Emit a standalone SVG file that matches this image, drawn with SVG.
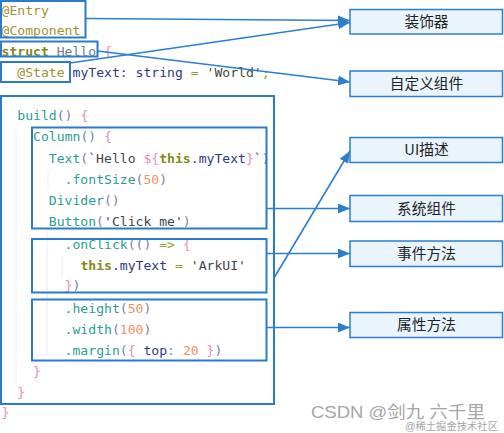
<svg xmlns="http://www.w3.org/2000/svg" width="504" height="433" viewBox="0 0 504 433">
<defs>
<marker id="ah" viewBox="0 0 12 10" refX="12" refY="5" markerWidth="12" markerHeight="10" markerUnits="userSpaceOnUse" orient="auto">
<path d="M0,0 L12,5 L0,10 Z" fill="#2b7fd0"/>
</marker>
<style>
.code{font-family:"DejaVu Sans Mono","Liberation Mono",monospace;font-size:13.1px;white-space:pre}
.cbox{fill:none;stroke:#2b7bcd;stroke-width:2}
.lbl rect{fill:#e9f4fd;stroke:#2b7fd0;stroke-width:1.5}
.lbl text{font-family:"Noto Sans CJK SC","Noto Sans",sans-serif;font-size:14.7px;fill:#222;text-anchor:middle}
.con{stroke:#2b7fd0;stroke-width:1.6;fill:none;marker-end:url(#ah)}
.guide{stroke:#ececec;stroke-width:1}
.d{fill:#a39230}
.k{fill:#848a18;font-weight:bold}
.n{fill:#6e7f86}
.b{fill:#e88bbd}
.t{fill:#2b9e92}
.p{fill:#7a7fa8}
.v{fill:#2d3a86}
.s{fill:#404848}
.m{fill:#f09068}
.o{fill:#9a9a30}
.wm{font-family:"Liberation Sans","Noto Sans CJK SC",sans-serif;fill:#a6a6a6}
</style>
</defs>
<rect width="504" height="433" fill="#ffffff"/>
<g id="guides">
<line class="guide" x1="16" y1="128" x2="16" y2="384"/>
<line class="guide" x1="48" y1="170" x2="48" y2="188"/>
<line class="guide" x1="47" y1="230" x2="47" y2="356"/>
<line class="guide" x1="62" y1="255" x2="62" y2="276"/>
</g>
<g id="code">
<text class="code" x="1.5" y="14.5" xml:space="preserve"><tspan class="d">@Entry</tspan></text>
<text class="code" x="1.5" y="35" xml:space="preserve"><tspan class="d">@Component</tspan></text>
<text class="code" x="1.5" y="56" xml:space="preserve"><tspan class="k">struct</tspan><tspan class="n"> Hello </tspan><tspan class="b">{</tspan></text>
<text class="code" x="17.3" y="77" xml:space="preserve"><tspan class="d">@State</tspan><tspan class="v"> myText</tspan><tspan class="v">: string </tspan><tspan class="o">= </tspan><tspan class="s">'World'</tspan><tspan class="o">;</tspan></text>
<text class="code" x="17.3" y="119.5" xml:space="preserve"><tspan class="t">build</tspan><tspan class="p">() </tspan><tspan class="b">{</tspan></text>
<text class="code" x="33.1" y="141" xml:space="preserve"><tspan class="t">Column</tspan><tspan class="p">() </tspan><tspan class="b">{</tspan></text>
<text class="code" x="48.8" y="162.5" xml:space="preserve"><tspan class="t">Text</tspan><tspan class="p">(</tspan><tspan class="s">`Hello </tspan><tspan class="b">${</tspan><tspan class="k">this</tspan><tspan class="v">.myText</tspan><tspan class="b">}</tspan><tspan class="s">`</tspan><tspan class="p">)</tspan></text>
<text class="code" x="64.6" y="183.5" xml:space="preserve"><tspan class="t">.fontSize</tspan><tspan class="p">(</tspan><tspan class="m">50</tspan><tspan class="p">)</tspan></text>
<text class="code" x="48.8" y="204.5" xml:space="preserve"><tspan class="t">Divider</tspan><tspan class="p">()</tspan></text>
<text class="code" x="48.8" y="225.5" xml:space="preserve"><tspan class="t">Button</tspan><tspan class="p">(</tspan><tspan class="s">'Click me'</tspan><tspan class="p">)</tspan></text>
<text class="code" x="64.6" y="249" xml:space="preserve"><tspan class="t">.onClick</tspan><tspan class="p">(() </tspan><tspan class="o">=&gt; </tspan><tspan class="b">{</tspan></text>
<text class="code" x="80.4" y="269.5" xml:space="preserve"><tspan class="k">this</tspan><tspan class="v">.myText </tspan><tspan class="o">= </tspan><tspan class="s">'ArkUI'</tspan></text>
<text class="code" x="64.6" y="290" xml:space="preserve"><tspan class="b">}</tspan><tspan class="p">)</tspan></text>
<text class="code" x="64.6" y="312.5" xml:space="preserve"><tspan class="t">.height</tspan><tspan class="p">(</tspan><tspan class="m">50</tspan><tspan class="p">)</tspan></text>
<text class="code" x="64.6" y="333.5" xml:space="preserve"><tspan class="t">.width</tspan><tspan class="p">(</tspan><tspan class="m">100</tspan><tspan class="p">)</tspan></text>
<text class="code" x="64.6" y="354.5" xml:space="preserve"><tspan class="t">.margin</tspan><tspan class="p">(</tspan><tspan class="b">{ </tspan><tspan class="v">top</tspan><tspan class="p">: </tspan><tspan class="m">20 </tspan><tspan class="b">}</tspan><tspan class="p">)</tspan></text>
<text class="code" x="33.1" y="376" xml:space="preserve"><tspan class="b">}</tspan></text>
<text class="code" x="17.3" y="396.5" xml:space="preserve"><tspan class="b">}</tspan></text>
<text class="code" x="1.5" y="417" xml:space="preserve"><tspan class="b">}</tspan></text>
</g>
<g id="code-boxes">
<rect id="box-decorators" class="cbox" x="1" y="1" width="84.5" height="36.5"/>
<rect id="box-struct" class="cbox" x="1" y="41.5" width="96.5" height="15"/>
<rect id="box-state" class="cbox" x="1" y="62" width="69" height="20"/>
<rect id="box-build" class="cbox" x="1" y="96" width="273" height="308"/>
<rect id="box-column" class="cbox" x="32" y="127.5" width="234.5" height="101"/>
<rect id="box-onclick" class="cbox" x="32" y="239" width="234.5" height="53.5"/>
<rect id="box-attrs" class="cbox" x="32" y="299.5" width="234.5" height="61"/>
</g>
<g id="connectors">
<line class="con" x1="85.5" y1="18.5" x2="350" y2="20.5"/>
<line class="con" x1="70" y1="63" x2="350" y2="22.5"/>
<line class="con" x1="97.5" y1="51" x2="350" y2="82"/>
<line class="con" x1="266.5" y1="208.5" x2="350" y2="208.5"/>
<line class="con" x1="274" y1="278" x2="350" y2="151"/>
<line class="con" x1="266.5" y1="253.5" x2="350" y2="253.5"/>
<line class="con" x1="266.5" y1="327.5" x2="350" y2="327.5"/>
</g>
<g id="node-decorator" class="lbl"><rect x="350" y="9.5" width="152.5" height="24.5"/><text x="426.5" y="27">装饰器</text></g>
<g id="node-custom" class="lbl"><rect x="350" y="71" width="152.5" height="25.5"/><text x="426.5" y="89">自定义组件</text></g>
<g id="node-ui" class="lbl"><rect x="350" y="137.5" width="152.5" height="25"/><text x="426.5" y="155">UI描述</text></g>
<g id="node-system" class="lbl"><rect x="350" y="195.5" width="152.5" height="26"/><text x="426.5" y="213.5">系统组件</text></g>
<g id="node-event" class="lbl"><rect x="350" y="241" width="152.5" height="25.5"/><text x="426.5" y="259">事件方法</text></g>
<g id="node-attr" class="lbl"><rect x="350" y="312.5" width="152.5" height="25"/><text x="426.5" y="330">属性方法</text></g>
<g id="watermark">
<text class="wm" x="311" y="418" font-size="16.5" textLength="174" lengthAdjust="spacingAndGlyphs">CSDN @剑九 六千里</text>
<text class="wm" x="405" y="430" font-size="10" textLength="93" lengthAdjust="spacingAndGlyphs" fill="#b4b4b4">@稀土掘金技术社区</text>
</g>
</svg>
